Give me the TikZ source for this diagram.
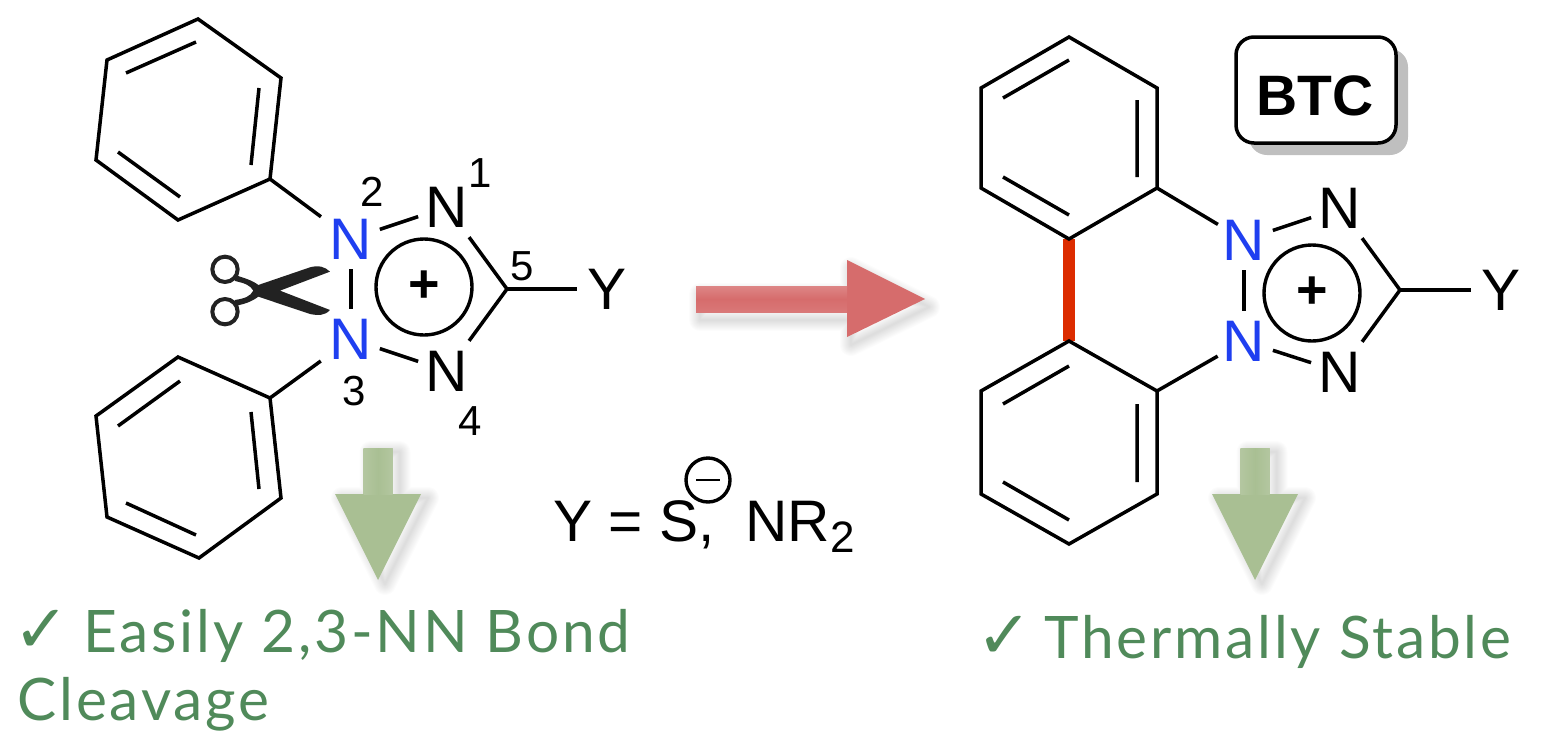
\documentclass[tikz,border=0pt]{standalone}
\usepackage{fontspec}
\setmainfont{Liberation Sans}
\newfontfamily\greenfont[LetterSpace=4.8]{Lato}
\newfontfamily\dejavu{DejaVu Sans}
\definecolor{bondblue}{HTML}{1F3FF0}
\definecolor{txtgreen}{HTML}{508A5A}
\definecolor{redbond}{HTML}{DC2C00}
\definecolor{scis}{HTML}{222222}
\definecolor{arrred}{HTML}{D66C6C}
\definecolor{arrgreen}{HTML}{A9BF93}
\newcommand{\atomfont}{\fontsize{29.3}{32}\selectfont}
\newcommand{\numfont}{\fontsize{21}{24}\selectfont}
\newcommand{\chk}{{\dejavu\fontsize{33.5}{34}\selectfont ✓}}
\newcommand{\redshape}{(696,286) -- (847,286) -- (847,260) -- (925,299) -- (847,337) -- (847,312) -- (696,312) -- cycle}
\newcommand{\greenshape}[1]{(#1-14.5,448) -- (#1+14.5,448) -- (#1+14.5,494) -- (#1+43,494) -- (#1,580) -- (#1-43,494) -- (#1-14.5,494) -- (#1-14.5,448) -- cycle}
\tikzset{
  bond/.style={line width=1.75pt,black},
  longend/.style={shorten <=3.5pt},
  atom/.style={circle,inner sep=0pt,minimum size=30pt,font=\atomfont},
  blueatom/.style={atom,text=bondblue},
  num/.style={inner sep=0pt,font=\numfont},
  ring/.style={line width=1.7pt,draw=black},
  softshadow/.style={draw=black,line join=round,opacity=0.012},
  greentext/.style={inner sep=0pt,text=txtgreen,font=\fontsize{29.3}{34}\selectfont\greenfont},
  plusmark/.style={circle,ring,inner sep=0pt,minimum size=48pt,font=\fontsize{27}{30}\selectfont\bfseries}
}
\begin{document}
\begin{tikzpicture}[x=0.5pt,y=-0.5pt]
\useasboundingbox (0,0) rectangle (1541,750);
% ---------- soft arrows ----------
\foreach \w in {1,2,...,11}{
  \draw[softshadow,line width=\w pt,shift={(4,8)}] \redshape;
  \draw[softshadow,line width=\w pt,shift={(7,4)}] \greenshape{378};
  \draw[softshadow,line width=\w pt,shift={(7,4)}] \greenshape{1255};
}
\fill[arrred] \redshape;
\shade[top color=arrred!82!white,bottom color=arrred!92!white,middle color=arrred] (696,286) rectangle (847,312);
\fill[arrgreen] \greenshape{378};
\shade[left color=arrgreen!88!white,right color=arrgreen!88!white,middle color=arrgreen] (363.5,448) rectangle (392.5,494);
\fill[arrgreen] \greenshape{1255};
\shade[left color=arrgreen!88!white,right color=arrgreen!88!white,middle color=arrgreen] (1240.5,448) rectangle (1269.5,494);
% ---------- left molecule ----------
\coordinate (a1) at (198,19);
\coordinate (a2) at (281,78);
\coordinate (a3) at (270,179);
\coordinate (a4) at (178,220);
\coordinate (a5) at (96,160);
\coordinate (a6) at (107,60);
\coordinate (ai1) at (126,73);  \coordinate (ai2) at (196,42);
\coordinate (ai3) at (259,88);  \coordinate (ai4) at (251,165);
\coordinate (ai5) at (118,152); \coordinate (ai6) at (180,197);
\draw[bond,line join=miter] (a1)--(a2)--(a3)--(a4)--(a5)--(a6)--cycle;
\draw[bond] (ai1)--(ai2) (ai3)--(ai4) (ai5)--(ai6);
\coordinate (b1) at (178,357);
\coordinate (b2) at (270,398);
\coordinate (b3) at (281,498);
\coordinate (b4) at (199,558);
\coordinate (b5) at (107,517);
\coordinate (b6) at (96,416);
\coordinate (bi1) at (180,381); \coordinate (bi2) at (118,426);
\coordinate (bi3) at (251,412); \coordinate (bi4) at (259,489);
\coordinate (bi5) at (126,503); \coordinate (bi6) at (196,535);
\draw[bond,line join=miter] (b1)--(b2)--(b3)--(b4)--(b5)--(b6)--cycle;
\draw[bond] (bi1)--(bi2) (bi3)--(bi4) (bi5)--(bi6);
\node[blueatom] (ln2) at (351,239) {N};
\node[blueatom] (ln3) at (351,339) {N};
\node[atom] (ln1) at (447,207) {N};
\node[atom] (ln4) at (447,371) {N};
\node[atom] (ly) at (607,289) {Y};
\coordinate (lc5) at (507,289);
\draw[bond,longend] (ln2) -- (a3);
\draw[bond,longend] (ln3) -- (b2);
\draw[bond] (ln2) -- (ln3);
\draw[bond] (ln2) -- (ln1);
\draw[bond] (ln3) -- (ln4);
\draw[bond,longend,line join=miter] (ln1) -- (lc5);
\draw[bond,longend] (ln4) -- (lc5);
\draw[bond] (lc5) -- (ly);
\node[plusmark] (lplus) at (424,287) {+};
\node[num] (l1) at (480,173) {1};
\node[num] (l2) at (372,192) {2};
\node[num] (l3) at (354,391) {3};
\node[num] (l4) at (470,421) {4};
\node[num] (l5) at (522,266) {5};
% scissors
\begin{scope}[shift={(190,170)},scale=0.3333]
\draw[scis,line width=2pt] (105,298) circle (38);
\draw[scis,line width=2pt] (105,425) circle (38);
\fill[scis] (135,315) .. controls (165,325) and (185,330) .. (205,345) -- (360,292)
  .. controls (385,285) and (405,290) .. (420,305) -- (270,362) -- (420,420)
  .. controls (405,437) and (385,437) .. (360,432) -- (205,380)
  .. controls (185,395) and (165,402) .. (135,408) -- (135,390)
  .. controls (165,385) and (180,380) .. (190,362)
  .. controls (180,345) and (165,340) .. (135,333) -- cycle;
\end{scope}
% Y = S-, NR2
\node[anchor=base west,inner sep=0pt,font=\atomfont] (ytext) at (553,541) {Y = S,\hspace{15.5pt}NR\raisebox{-5.5pt}{\fontsize{22}{24}\selectfont 2}};
\node[circle,ring,inner sep=0pt,minimum size=22pt] (minus) at (708,480) {};
\draw[line width=1.4pt] ([xshift=-6pt]minus.center) -- ([xshift=6pt]minus.center);
% ---------- right molecule ----------
\coordinate (c1) at (1069,37);
\coordinate (c2) at (1157,88);
\coordinate (c3) at (1157,188);
\coordinate (c4) at (1069,239);
\coordinate (c5) at (981,188);
\coordinate (c6) at (981,88);
\coordinate (ci1) at (1003,98);  \coordinate (ci2) at (1069,60);
\coordinate (ci3) at (1137,100); \coordinate (ci4) at (1137,177);
\coordinate (ci5) at (1003,177); \coordinate (ci6) at (1069,215);
\coordinate (d1) at (1069,341);
\coordinate (d2) at (1157,391);
\coordinate (d3) at (1157,494);
\coordinate (d4) at (1069,544);
\coordinate (d5) at (981,494);
\coordinate (d6) at (981,391);
\coordinate (di1) at (1069,366); \coordinate (di2) at (1003,404);
\coordinate (di3) at (1137,404); \coordinate (di4) at (1137,482);
\coordinate (di5) at (1003,482); \coordinate (di6) at (1069,520);
\draw[redbond,line width=5.7pt] (c4) -- (d1);
\draw[bond] (c1)--(c2)--(c3)--(c4)--(c5)--(c6)--cycle;
\draw[bond] (ci1)--(ci2) (ci3)--(ci4) (ci5)--(ci6);
\draw[bond] (d1)--(d2)--(d3)--(d4)--(d5)--(d6)--cycle;
\draw[bond] (di1)--(di2) (di3)--(di4) (di5)--(di6);
\node[blueatom] (rn2) at (1244,240) {N};
\node[blueatom] (rn3) at (1244,341) {N};
\node[atom] (rn1) at (1340,208) {N};
\node[atom] (rn4) at (1340,372) {N};
\node[atom] (ry) at (1501,290) {Y};
\coordinate (rc5) at (1400,290);
\draw[bond] (rn2) -- (c3);
\draw[bond] (rn3) -- (d2);
\draw[bond] (rn2) -- (rn3);
\draw[bond] (rn2) -- (rn1);
\draw[bond] (rn3) -- (rn4);
\draw[bond,longend] (rn1) -- (rc5);
\draw[bond,longend] (rn4) -- (rc5);
\draw[bond] (rc5) -- (ry);
\node[plusmark] (rplus) at (1312,293) {+};
% BTC box
\fill[black!25,rounded corners=9pt] (1249,49) rectangle (1408,155);
\node[draw=black,line width=1.75pt,fill=white,rounded corners=9pt,minimum width=80pt,minimum height=53pt,inner sep=0pt] (btc) at (1316,90) {};
\node[inner sep=0pt,font=\fontsize{28.5}{30}\selectfont\bfseries] (btctext) at (1315,96) {BTC};
% ---------- green texts ----------
\node[greentext,anchor=base west] (gt1) at (13,652) {\chk\hspace{-2pt} Easily 2,3-NN Bond};
\node[greentext,anchor=base west] (gt2) at (17,720) {Cleavage};
\node[greentext,anchor=base west] (gt3) at (976,658) {\chk\hspace{-3pt} Thermally Stable};
\end{tikzpicture}
\end{document}
